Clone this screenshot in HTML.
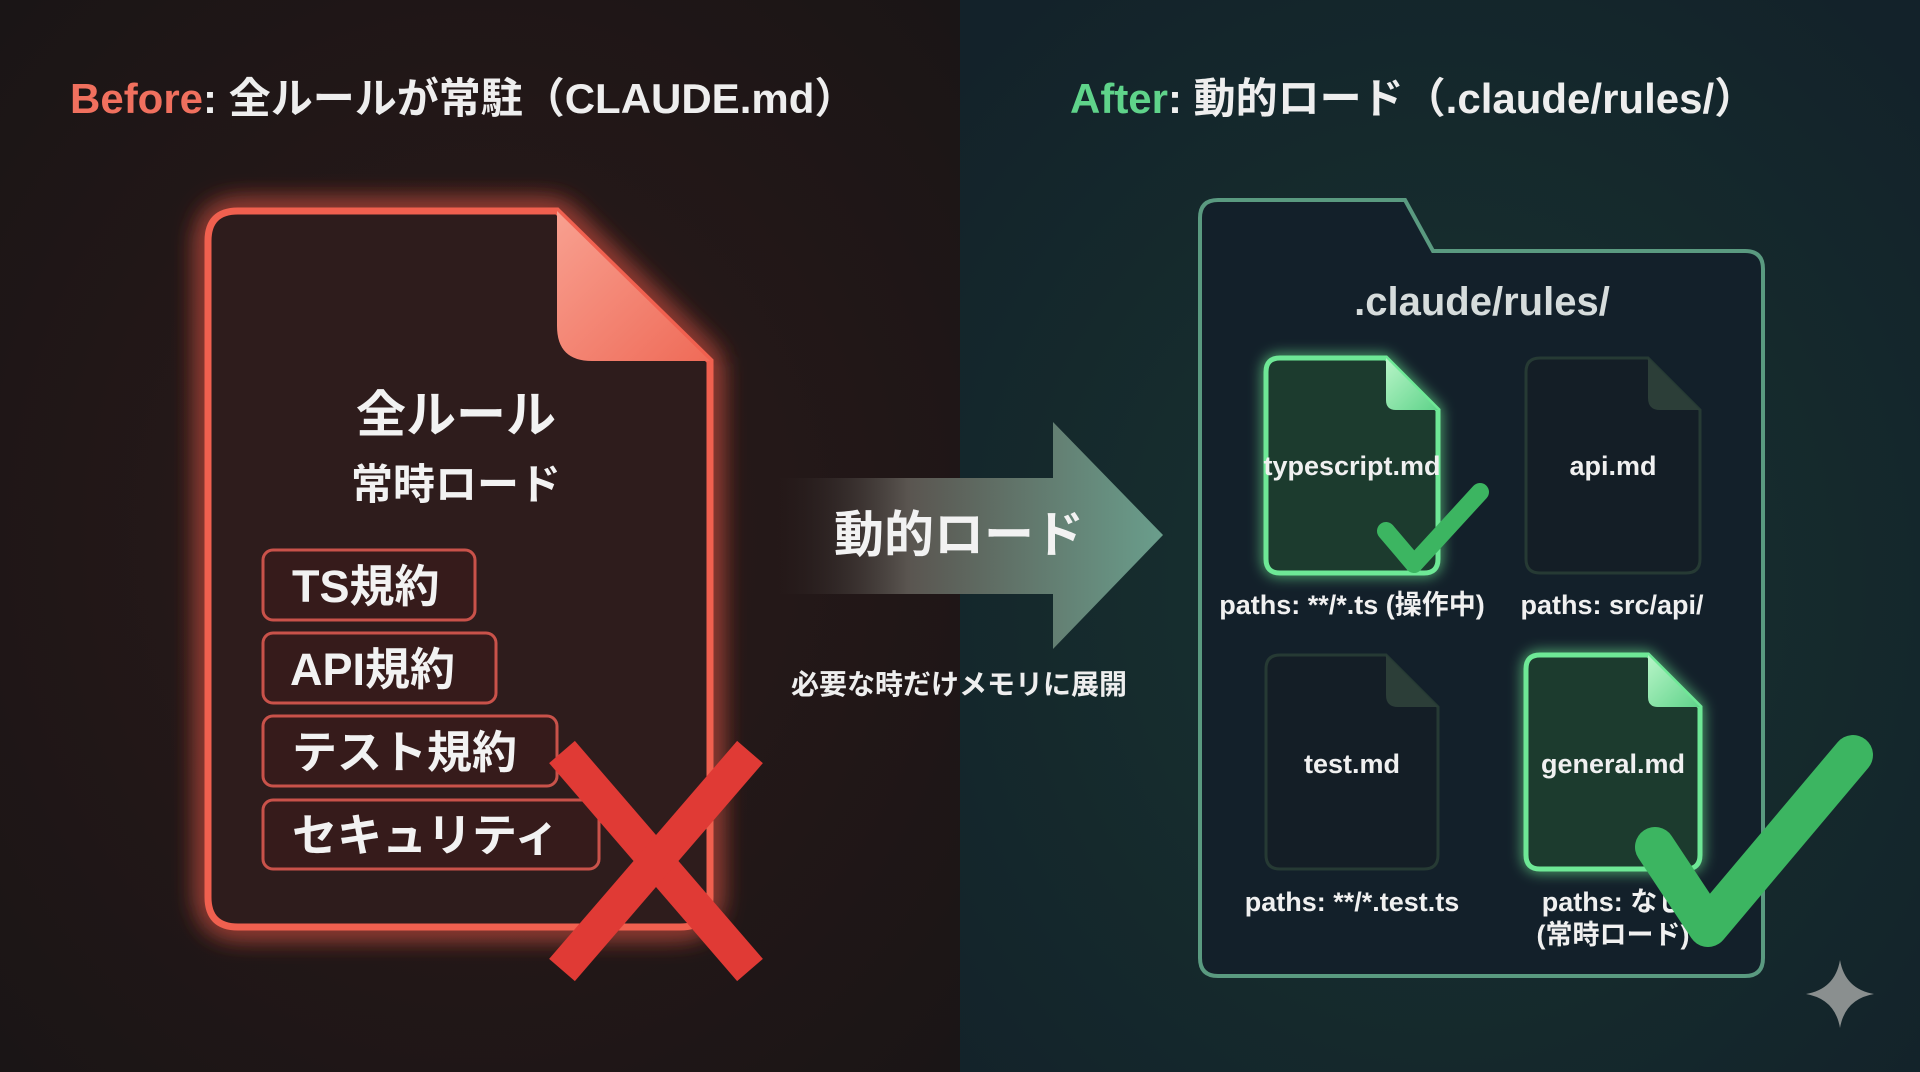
<!DOCTYPE html>
<html><head><meta charset="utf-8"><style>
html,body{margin:0;padding:0;background:#181818;}
svg{display:block}
text{font-family:"Liberation Sans","Noto Sans CJK JP",sans-serif;font-weight:bold;}
</style></head><body>
<svg width="1920" height="1072" viewBox="0 0 1920 1072" xmlns="http://www.w3.org/2000/svg">
<defs>
<radialGradient id="bgL" cx="0.5" cy="0.5" r="0.7"><stop offset="0" stop-color="#2c1a19"/><stop offset="1" stop-color="#1a1516"/></radialGradient>
<radialGradient id="bgR" cx="0.5" cy="0.55" r="0.7"><stop offset="0" stop-color="#183430"/><stop offset="1" stop-color="#13222a"/></radialGradient>
<linearGradient id="arr" x1="0" y1="0" x2="1" y2="0"><stop offset="0" stop-color="#2a2020" stop-opacity="0"/><stop offset="0.35" stop-color="#5a5550"/><stop offset="1" stop-color="#6a9e8c"/></linearGradient>
<linearGradient id="fold" x1="0" y1="0" x2="1" y2="1"><stop offset="0" stop-color="#f8a090"/><stop offset="1" stop-color="#ef6b58"/></linearGradient>
<linearGradient id="gfold" x1="0" y1="0" x2="1" y2="1"><stop offset="0" stop-color="#b8f5c8"/><stop offset="1" stop-color="#5fd38a"/></linearGradient>
<filter id="glowR" x="-30%" y="-30%" width="160%" height="160%"><feGaussianBlur stdDeviation="14" result="b"/><feMerge><feMergeNode in="b"/><feMergeNode in="b"/><feMergeNode in="SourceGraphic"/></feMerge></filter>
<filter id="glowG" x="-30%" y="-30%" width="160%" height="160%"><feGaussianBlur stdDeviation="7" result="b"/><feMerge><feMergeNode in="b"/><feMergeNode in="SourceGraphic"/></feMerge></filter>
</defs>
<rect x="0" y="0" width="960" height="1072" fill="url(#bgL)"/>
<rect x="960" y="0" width="960" height="1072" fill="url(#bgR)"/>

<!-- titles -->
<text x="70" y="113" font-size="42" fill="#eeeeee"><tspan fill="#f0705e">Before</tspan>: 全ルールが常駐（CLAUDE.md）</text>
<text x="1070" y="113" font-size="42" fill="#eeeeee"><tspan fill="#5fd38a">After</tspan>: 動的ロード（.claude/rules/）</text>

<!-- red doc -->
<path d="M238 211 H557 L710 361 V897 Q710 927 680 927 H238 Q208 927 208 897 V241 Q208 211 238 211 Z" fill="#2e1a1a" stroke="#f0604f" stroke-width="7" filter="url(#glowR)"/>
<path d="M557 211 V326 Q557 361 592 361 H710 Z" fill="url(#fold)"/>
<text x="456" y="432" font-size="50" fill="#f2f2f2" text-anchor="middle">全ルール</text>
<text x="456" y="499" font-size="42" fill="#f2f2f2" text-anchor="middle">常時ロード</text>
<g fill="#361b1b" stroke="#c9524a" stroke-width="3">
<rect x="263" y="550" width="212" height="70" rx="10"/>
<rect x="263" y="633" width="233" height="70" rx="10"/>
<rect x="263" y="716" width="294" height="70" rx="10"/>
<rect x="263" y="800" width="336" height="69" rx="10"/>
</g>
<g font-size="45" fill="#f2f2f2">
<text x="292" y="602">TS規約</text>
<text x="290" y="685">API規約</text>
<text x="292" y="768">テスト規約</text>
<text x="292" y="851">セキュリティ</text>
</g>
<g stroke="#e03a35" stroke-width="34">
<line x1="562" y1="752" x2="750" y2="970"/>
<line x1="750" y1="752" x2="562" y2="970"/>
</g>

<!-- arrow -->
<path d="M771 478 H1053 V422 L1163 535 L1053 649 V594 H771 Z" fill="url(#arr)"/>
<text x="959" y="552" font-size="50" fill="#f2f2f2" text-anchor="middle">動的ロード</text>
<text x="959" y="694" font-size="28" fill="#eeeeee" text-anchor="middle">必要な時だけメモリに展開</text>

<!-- folder -->
<path d="M1218 200 H1405 L1433 251 H1745 Q1763 251 1763 269 V958 Q1763 976 1745 976 H1218 Q1200 976 1200 958 V218 Q1200 200 1218 200 Z" fill="#13202a" stroke="#5a9a80" stroke-width="4"/>
<text x="1482" y="315" font-size="40" fill="#d6dcdc" text-anchor="middle" font-weight="normal">.claude/rules/</text>

<!-- files -->
<g>
<path d="M1280 358 H1386 L1438 410 V559 Q1438 573 1424 573 H1280 Q1266 573 1266 559 V372 Q1266 358 1280 358 Z" fill="#1e3a2e" stroke="#6ee896" stroke-width="5" filter="url(#glowG)"/>
<path d="M1386 358 V400 Q1386 410 1396 410 H1438 Z" fill="url(#gfold)"/>
<path d="M1540 358 H1648 L1700 410 V559 Q1700 573 1686 573 H1540 Q1526 573 1526 559 V372 Q1526 358 1540 358 Z" fill="#141e26" stroke="#263a34" stroke-width="3"/>
<path d="M1648 358 L1700 410 H1660 Q1648 410 1648 398 Z" fill="#2c3e38"/>
<path d="M1280 655 H1386 L1438 707 V855 Q1438 869 1424 869 H1280 Q1266 869 1266 855 V669 Q1266 655 1280 655 Z" fill="#141e26" stroke="#263a34" stroke-width="3"/>
<path d="M1386 655 L1438 707 H1398 Q1386 707 1386 695 Z" fill="#2c3e38"/>
<path d="M1540 655 H1648 L1700 707 V855 Q1700 869 1686 869 H1540 Q1526 869 1526 855 V669 Q1526 655 1540 655 Z" fill="#1e3a2e" stroke="#6ee896" stroke-width="5" filter="url(#glowG)"/>
<path d="M1648 655 V697 Q1648 707 1658 707 H1700 Z" fill="url(#gfold)"/>
</g>
<g font-size="27" fill="#f0f0f0" text-anchor="middle" font-weight="normal">
<text x="1352" y="475" font-weight="bold">typescript.md</text>
<text x="1613" y="475" font-weight="bold">api.md</text>
<text x="1352" y="773" font-weight="bold">test.md</text>
<text x="1613" y="773" font-weight="bold">general.md</text>
<text x="1352" y="614">paths: **/*.ts (操作中)</text>
<text x="1612" y="614">paths: src/api/</text>
<text x="1352" y="911">paths: **/*.test.ts</text>
<text x="1613" y="911">paths: なし</text>
<text x="1613" y="944">(常時ロード)</text>
</g>
<g fill="none" stroke="#3cb561" stroke-linecap="round" stroke-linejoin="round">
<polyline points="1386,531 1414,564 1480,492" stroke-width="18"/>
<polyline points="1655,847 1708,927 1853,755" stroke-width="40"/>
</g>
<path d="M1840 960 Q1845 989 1874 994 Q1845 999 1840 1028 Q1835 999 1806 994 Q1835 989 1840 960 Z" fill="#8a8f8f"/>
</svg>
</body></html>
